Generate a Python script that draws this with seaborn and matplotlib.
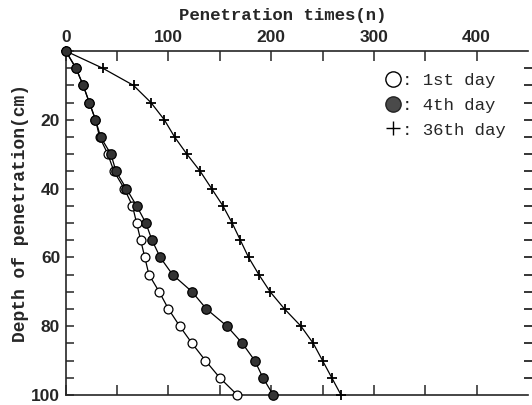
import matplotlib
matplotlib.use("Agg")
import matplotlib.pyplot as plt
from matplotlib.lines import Line2D
import seaborn as sns
import pandas as pd

# ---- data ----
depth = [0, 5, 10, 15, 20, 25, 30, 35, 40, 45, 50, 55, 60, 65, 70, 75, 80, 85, 90, 95, 100]
day1 = [0, 10, 17, 23, 29, 33, 41, 47, 57, 65, 69, 73, 77, 81, 91, 100, 111, 123, 136, 150, 167]
day4 = [0, 10, 17, 23, 29, 34, 44, 49, 59, 69, 78, 84, 92, 104, 123, 137, 157, 172, 184, 192, 202]
day36 = [0, 36, 66, 83, 96, 106, 118, 131, 142, 153, 162, 170, 178, 188, 199, 213, 229, 241, 250, 259, 268]
series_labels = [": 1st day", ": 4th day", ": 36th day"]
x_ticklabels = ["0", "", "100", "", "200", "", "300", "", "400"]
y_major = [20, 40, 60, 80, 100]

sns.set_style("ticks")
plt.rcParams["font.family"] = ["Liberation Sans", "DejaVu Sans"]

fig = plt.figure(figsize=(5.32, 4.05), dpi=100)
ax = fig.add_axes([0.1235, 0.0247, 0.869, 0.8494])

df1 = pd.DataFrame({"n": day1, "d": depth})
df4 = pd.DataFrame({"n": day4, "d": depth})
df36 = pd.DataFrame({"n": day36, "d": depth})

sns.lineplot(data=df36, x="n", y="d", sort=False, estimator=None, ax=ax,
             color="black", linewidth=0.9, linestyle="-", marker="+",
             markersize=7.5, markeredgecolor="black", markeredgewidth=1.3,
             clip_on=False, zorder=3)
sns.lineplot(data=df1, x="n", y="d", sort=False, estimator=None, ax=ax,
             color="black", linewidth=0.9, linestyle="-", marker="o",
             markersize=6.4, markerfacecolor="white",
             markeredgecolor="black", markeredgewidth=0.9,
             clip_on=False, zorder=4)
sns.lineplot(data=df4, x="n", y="d", sort=False, estimator=None, ax=ax,
             color="black", linewidth=0.9, linestyle="-", marker="o",
             markersize=6.8, markerfacecolor="#333333",
             markeredgecolor="black", markeredgewidth=0.9,
             clip_on=False, zorder=5)

ax.set_xlim(0, 450)
ax.set_ylim(100, 0)

# x axis on top
ax.xaxis.set_ticks_position("both")
ax.xaxis.set_label_position("top")
ax.set_xticks(range(0, 401, 50))
ax.set_xticklabels(x_ticklabels)
ax.tick_params(axis="x", which="both", direction="in", length=7.5, width=1.1,
               top=True, bottom=True, labeltop=True, labelbottom=False,
               labelsize=12.5, pad=4)
for lab in ax.get_xticklabels():
    lab.set_fontweight("bold")

yt = list(range(0, 101, 5))
ax.set_yticks(yt)
ax.set_yticklabels([str(v) if v in y_major else "" for v in yt])
ax.tick_params(axis="y", which="both", direction="in", length=6, width=1.1,
               left=True, right=False, labelsize=12.5, pad=4)
for lab in ax.get_yticklabels():
    lab.set_fontweight("bold")

# right side: short dashes without a spine
axr = ax.twinx()
axr.set_ylim(100, 0)
axr.set_yticks(list(range(5, 100, 5)))
axr.set_yticklabels([])
axr.tick_params(axis="y", direction="inout", length=6, width=1.3, right=True)
for s in ["right", "top", "left", "bottom"]:
    axr.spines[s].set_visible(False)
ax.spines["right"].set_visible(False)
for s in ["top", "bottom", "left"]:
    ax.spines[s].set_linewidth(1.2)

ax.set_xlabel("Penetration times(n)", fontfamily="Liberation Mono",
              fontweight="bold", fontsize=12.5, labelpad=2)
ax.xaxis.set_label_coords(0.47, 1.09)
ax.set_ylabel("Depth of penetration(cm)", fontfamily="Liberation Mono",
              fontweight="bold", fontsize=13)
ax.yaxis.set_label_coords(-0.08, 0.53)

handles = [
    Line2D([], [], ls="none", marker="o", ms=11, mfc="white", mec="black", mew=1.0),
    Line2D([], [], ls="none", marker="o", ms=11, mfc="#4a4a4a", mec="#222222", mew=1.0),
    Line2D([], [], ls="none", marker="+", ms=10, mec="black", mew=1.0),
]
leg = ax.legend(handles, series_labels, loc="upper left",
                bbox_to_anchor=(386 / 532, 1 - 73 / 405),
                bbox_transform=fig.transFigure, frameon=False,
                prop={"family": "Liberation Mono", "size": 12.5},
                handlelength=0.8, handletextpad=0.1, labelspacing=0.55,
                borderpad=0, borderaxespad=0)

fig.savefig("out.png", dpi=100)
